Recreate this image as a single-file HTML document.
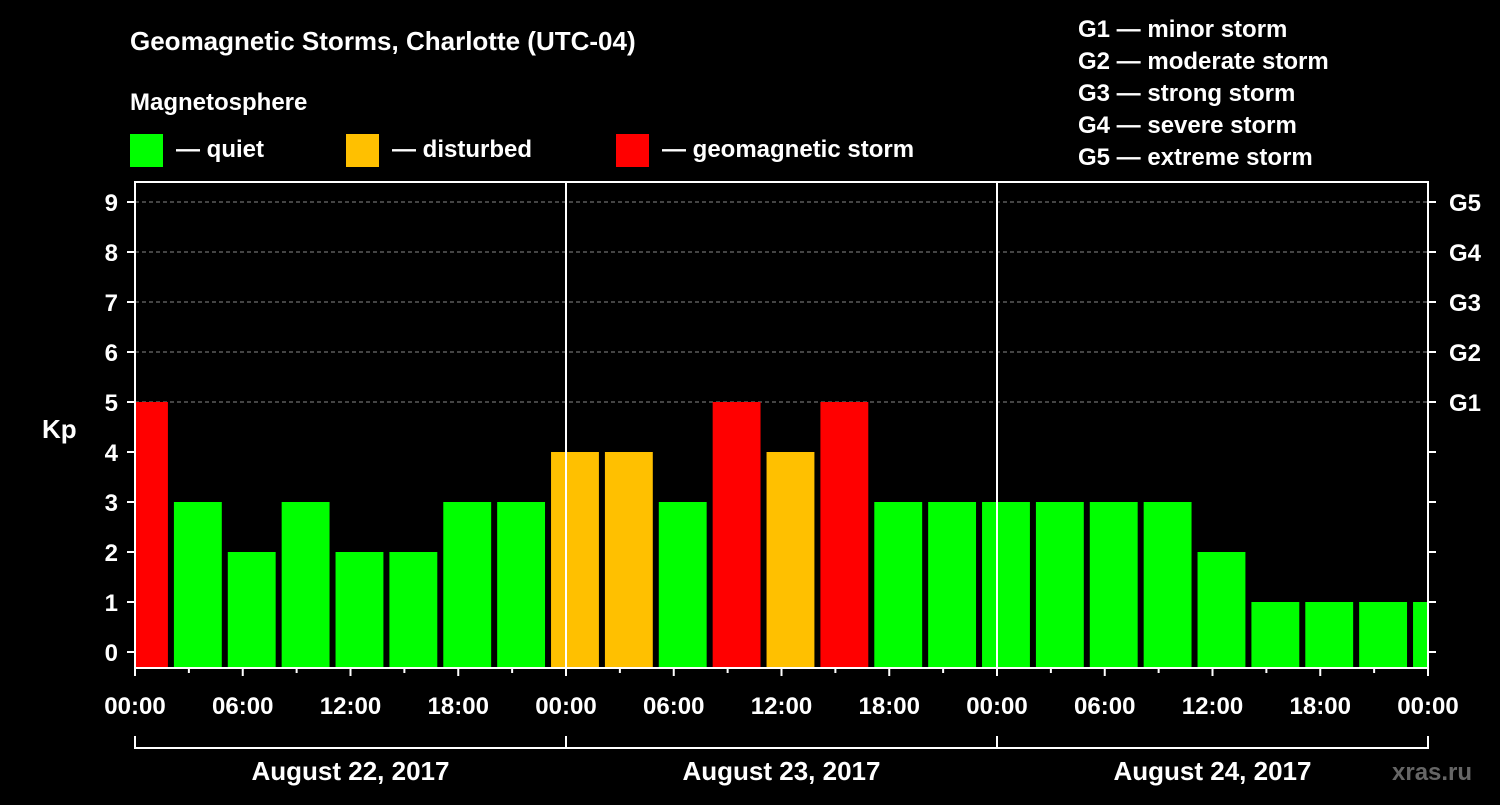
<!DOCTYPE html>
<html><head><meta charset="utf-8"><style>
body{margin:0;background:#000;}
svg text{font-family:"Liberation Sans",Arial,sans-serif;font-weight:bold;fill:#fff;}
</style></head><body>
<svg id="chart" width="1500" height="800" viewBox="0 0 1500 800" xmlns="http://www.w3.org/2000/svg">
<rect width="1500" height="800" fill="#000"/>
<text x="130" y="50" font-size="26">Geomagnetic Storms, Charlotte (UTC-04)</text>
<text x="130" y="110" font-size="24">Magnetosphere</text>
<g><rect x="130" y="134" width="33" height="33" fill="#00ff00"/><text x="176" y="157" font-size="24">— quiet</text></g>
<g><rect x="346" y="134" width="33" height="33" fill="#ffc000"/><text x="392" y="157" font-size="24">— disturbed</text></g>
<g><rect x="616" y="134" width="33" height="33" fill="#ff0000"/><text x="662" y="157" font-size="24">— geomagnetic storm</text></g>
<g font-size="24">
<text x="1078" y="37">G1 — minor storm</text>
<text x="1078" y="69">G2 — moderate storm</text>
<text x="1078" y="101">G3 — strong storm</text>
<text x="1078" y="133">G4 — severe storm</text>
<text x="1078" y="165">G5 — extreme storm</text>
</g>
<text x="42" y="438" font-size="26">Kp</text>
<text x="1392" y="780" font-size="24" fill="#666" style="fill:#666">xras.ru</text>
<g id="grid"></g><g id="bars"></g><g id="axes"></g>
</svg>
<script>
const kpValues=[5,3,2,3,2,2,3,3,4,4,3,5,4,5,3,3,3,3,3,3,2,1,1,1,1];
const yTicks=[0,1,2,3,4,5,6,7,8,9];
const gLabels=["G1","G2","G3","G4","G5"];
const xTickLabels=["00:00","06:00","12:00","18:00","00:00","06:00","12:00","18:00","00:00","06:00","12:00","18:00","00:00"];
const dayLabels=["August 22, 2017","August 23, 2017","August 24, 2017"];
const NS="http://www.w3.org/2000/svg";
const L=135,R=1428,T=182,B=668,H0=-1,HOURS=72;
const x=h=>L+(h/HOURS)*(R-L);
const y=v=>652-50*v;
function mk(tag,attrs,parent,txt){const e=document.createElementNS(NS,tag);for(const k in attrs)e.setAttribute(k,attrs[k]);if(txt!==undefined)e.textContent=txt;parent.appendChild(e);return e;}
const grid=document.getElementById('grid'),bars=document.getElementById('bars'),axes=document.getElementById('axes');
for(let v=5;v<=9;v++){const l=mk('line',{x1:L,x2:R,y1:y(v),y2:y(v),stroke:'#888','stroke-dasharray':'4,3','stroke-width':1},grid);

}
const col=v=>v>=5?'#ff0000':(v>=4?'#ffc000':'#00ff00');
kpValues.forEach((v,i)=>{let x0=x(H0+3*i)+3,x1=x(H0+3*i+3)-3;x0=Math.max(x0,L+1);x1=Math.min(x1,R);
const r=mk('rect',{x:x0,y:y(v),width:x1-x0,height:B-1-y(v),fill:col(v)},bars);

});
const fr=mk('rect',{x:L,y:T,width:R-L,height:B-T,fill:'none',stroke:'#fff','stroke-width':2},axes);


[24,48].forEach(h=>{const l=mk('line',{x1:x(h),x2:x(h),y1:T,y2:B,stroke:'#fff','stroke-width':2},axes);

});
yTicks.forEach(v=>{mk('line',{x1:L-8,x2:L,y1:y(v),y2:y(v),stroke:'#fff','stroke-width':2},axes);
mk('line',{x1:R,x2:R+8,y1:y(v),y2:y(v),stroke:'#fff','stroke-width':2},axes);
const t=mk('text',{x:118,y:y(v)+9,'font-size':24,'text-anchor':'end'},axes,String(v));

});
gLabels.forEach((g,i)=>{const t=mk('text',{x:1449,y:y(5+i)+9,'font-size':24},axes,g);

});
xTickLabels.forEach((s,i)=>{const h=i*6;mk('line',{x1:x(h),x2:x(h),y1:B,y2:B+8,stroke:'#fff','stroke-width':2},axes);
const t=mk('text',{x:x(h),y:714,'font-size':24,'text-anchor':'middle'},axes,s);

});
for(let h=3;h<72;h+=6)mk('line',{x1:x(h),x2:x(h),y1:B,y2:B+5,stroke:'#fff','stroke-width':2},axes);
mk('line',{x1:L,x2:R,y1:748,y2:748,stroke:'#fff','stroke-width':2},axes);
[0,24,48,72].forEach(h=>mk('line',{x1:x(h),x2:x(h),y1:736,y2:749,stroke:'#fff','stroke-width':2},axes));
dayLabels.forEach((s,i)=>{const t=mk('text',{x:x(24*i+12),y:780,'font-size':26,'text-anchor':'middle'},axes,s);

});
</script>
</body></html>
